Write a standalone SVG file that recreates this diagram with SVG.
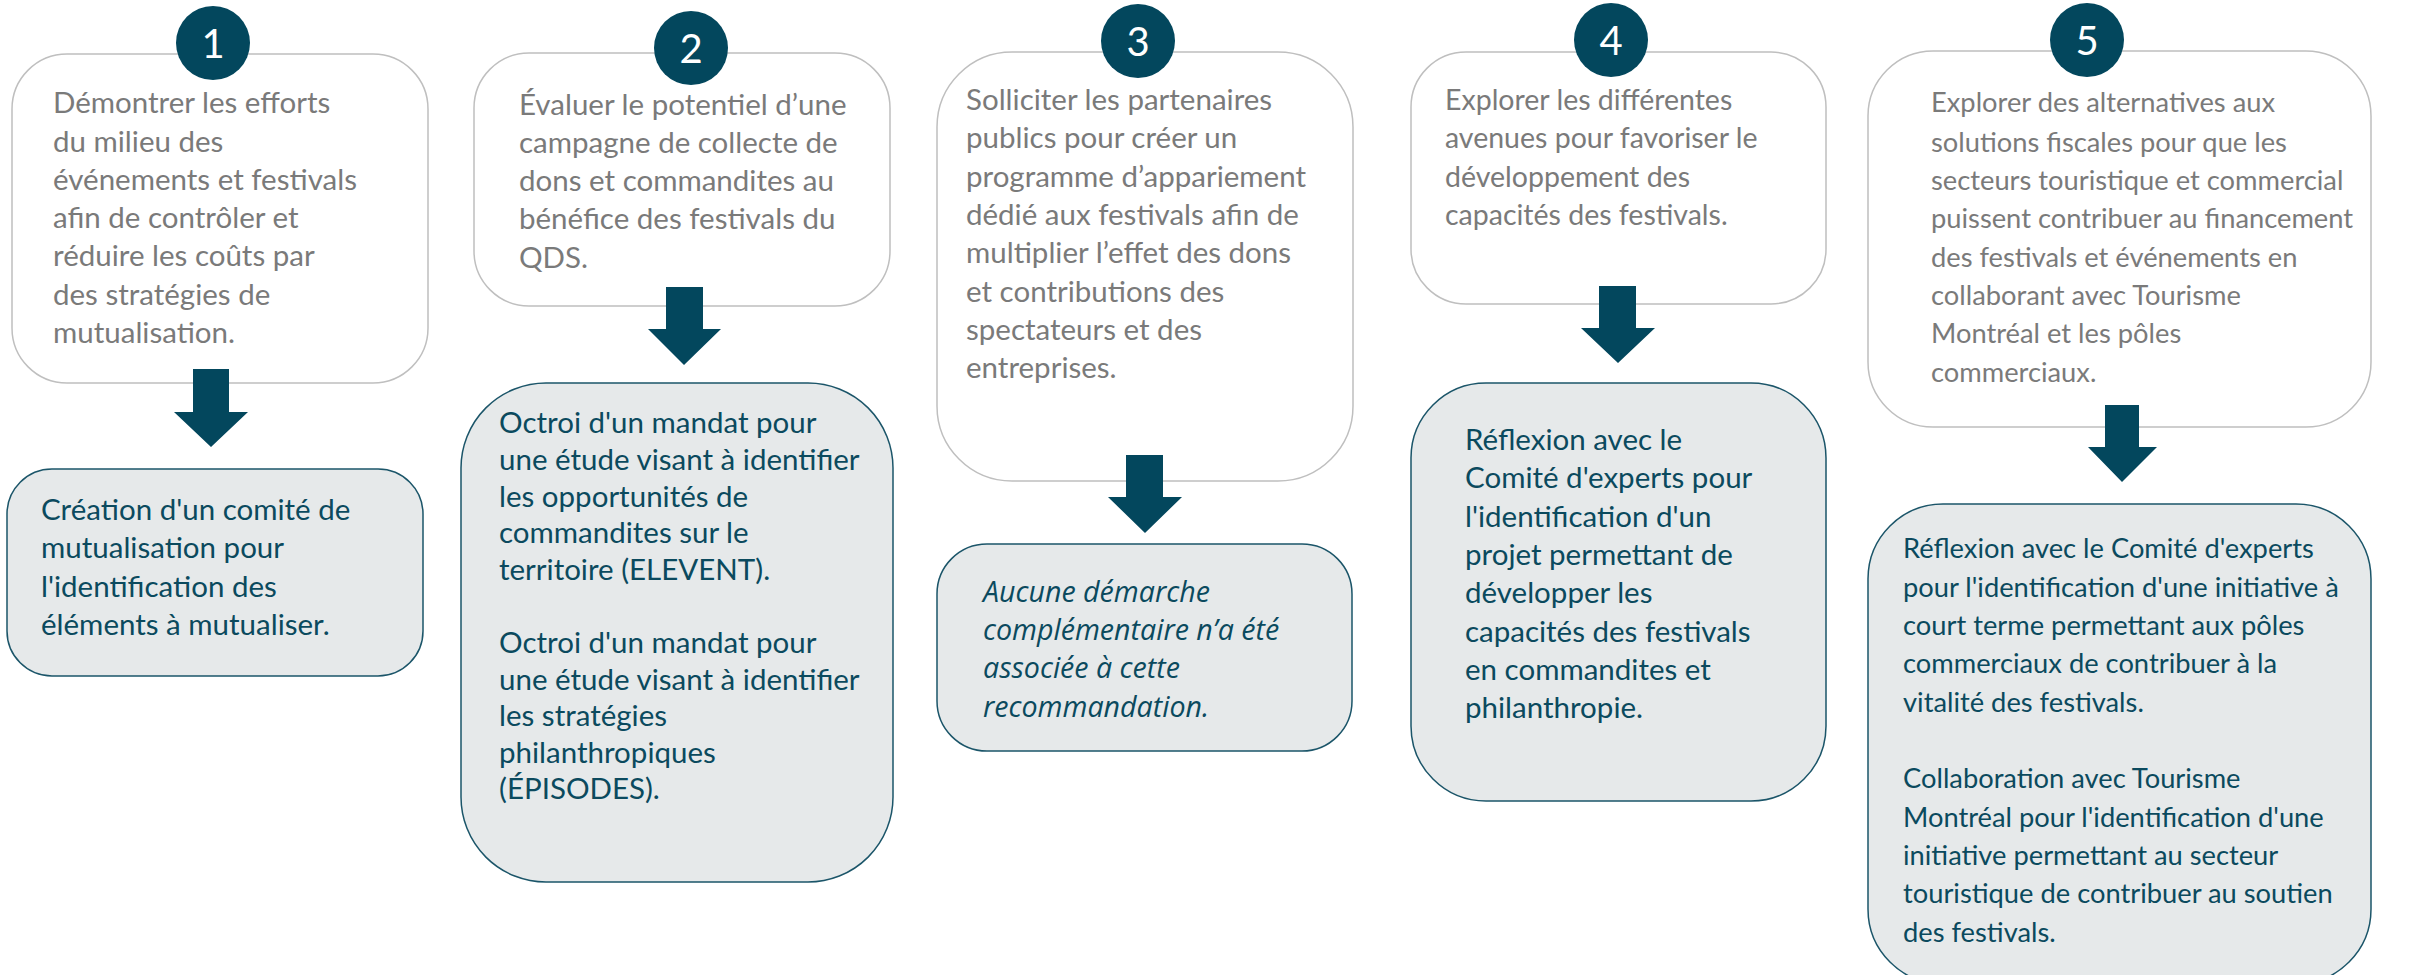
<svg xmlns="http://www.w3.org/2000/svg" width="2412" height="975" viewBox="0 0 2412 975">
<style>
.top{fill:#ffffff;stroke:#bfbfbf;stroke-width:1.5}
.bot{fill:#e6e9ea;stroke:#1b5569;stroke-width:1.5}
.circ{fill:#03475d}
.num{font-family:Lato,"Liberation Sans",sans-serif;font-size:40px;fill:#ffffff;text-anchor:middle}
.tt{font-family:Lato,"Liberation Sans",sans-serif;font-size:29.5px;fill:#7a7a7a}
.bt{font-family:Lato,"Liberation Sans",sans-serif;font-size:29.5px;fill:#0b4a5e}
.it{font-family:"Open Sans",Lato,sans-serif;font-style:italic;font-size:28.6px}
.s4{font-size:28.5px}
.s5{font-size:27.3px}
.arr{fill:#03475d}
</style>
<rect width="2412" height="975" fill="#ffffff"/>

<g id="node1">
<rect class="top" x="12" y="54" width="416" height="329" rx="55"/>
<circle class="circ" cx="213" cy="43" r="37"/>
<text class="num" x="213" y="58">1</text>
<text class="tt"><tspan x="53" y="113">Démontrer les efforts</tspan><tspan x="53" y="152">du milieu des</tspan><tspan x="53" y="190">événements et festivals</tspan><tspan x="53" y="228">afin de contrôler et</tspan><tspan x="53" y="266">réduire les coûts par</tspan><tspan x="53" y="305">des stratégies de</tspan><tspan x="53" y="343">mutualisation.</tspan></text>
</g>
<g id="result1">
<rect class="bot" x="7" y="469" width="416" height="207" rx="45"/>
<text class="bt"><tspan x="41" y="520">Création d'un comité de</tspan><tspan x="41" y="558">mutualisation pour</tspan><tspan x="41" y="597">l'identification des</tspan><tspan x="41" y="635">éléments à mutualiser.</tspan></text>
</g>

<g id="node2">
<rect class="top" x="474" y="53" width="416" height="253" rx="55"/>
<circle class="circ" cx="691" cy="48" r="37"/>
<text class="num" x="691" y="63">2</text>
<text class="tt"><tspan x="519" y="115">Évaluer le potentiel d’une</tspan><tspan x="519" y="153">campagne de collecte de</tspan><tspan x="519" y="191">dons et commandites au</tspan><tspan x="519" y="229">bénéfice des festivals du</tspan><tspan x="519" y="268">QDS.</tspan></text>
</g>
<g id="result2">
<rect class="bot" x="461" y="383" width="432" height="499" rx="85"/>
<text class="bt"><tspan x="499" y="433">Octroi d'un mandat pour</tspan><tspan x="499" y="470">une étude visant à identifier</tspan><tspan x="499" y="507">les opportunités de</tspan><tspan x="499" y="543">commandites sur le</tspan><tspan x="499" y="580">territoire (ELEVENT).</tspan><tspan x="499" y="653">Octroi d'un mandat pour</tspan><tspan x="499" y="690">une étude visant à identifier</tspan><tspan x="499" y="726">les stratégies</tspan><tspan x="499" y="763">philanthropiques</tspan><tspan x="499" y="799">(ÉPISODES).</tspan></text>
</g>

<g id="node3">
<rect class="top" x="937" y="52" width="416" height="429" rx="75"/>
<circle class="circ" cx="1138" cy="41" r="37"/>
<text class="num" x="1138" y="56">3</text>
<text class="tt"><tspan x="966" y="110">Solliciter les partenaires</tspan><tspan x="966" y="148">publics pour créer un</tspan><tspan x="966" y="187">programme d’appariement</tspan><tspan x="966" y="225">dédié aux festivals afin de</tspan><tspan x="966" y="263">multiplier l’effet des dons</tspan><tspan x="966" y="302">et contributions des</tspan><tspan x="966" y="340">spectateurs et des</tspan><tspan x="966" y="378">entreprises.</tspan></text>
</g>
<g id="result3">
<rect class="bot" x="937" y="544" width="415" height="207" rx="50"/>
<text class="bt it"><tspan x="983" y="602">Aucune démarche</tspan><tspan x="983" y="640">complémentaire n’a été</tspan><tspan x="983" y="678">associée à cette</tspan><tspan x="983" y="717">recommandation.</tspan></text>
</g>

<g id="node4">
<rect class="top" x="1411" y="52" width="415" height="252" rx="55"/>
<circle class="circ" cx="1611" cy="40" r="37"/>
<text class="num" x="1611" y="55">4</text>
<text class="tt s4"><tspan x="1445" y="110">Explorer les différentes</tspan><tspan x="1445" y="148">avenues pour favoriser le</tspan><tspan x="1445" y="187">développement des</tspan><tspan x="1445" y="225">capacités des festivals.</tspan></text>
</g>
<g id="result4">
<rect class="bot" x="1411" y="383" width="415" height="418" rx="75"/>
<text class="bt"><tspan x="1465" y="450">Réflexion avec le</tspan><tspan x="1465" y="488">Comité d'experts pour</tspan><tspan x="1465" y="527">l'identification d'un</tspan><tspan x="1465" y="565">projet permettant de</tspan><tspan x="1465" y="603">développer les</tspan><tspan x="1465" y="642">capacités des festivals</tspan><tspan x="1465" y="680">en commandites et</tspan><tspan x="1465" y="718">philanthropie.</tspan></text>
</g>

<g id="node5">
<rect class="top" x="1868" y="51" width="503" height="376" rx="65"/>
<circle class="circ" cx="2087" cy="40" r="37"/>
<text class="num" x="2087" y="55">5</text>
<text class="tt s5"><tspan x="1931" y="112">Explorer des alternatives aux</tspan><tspan x="1931" y="152">solutions fiscales pour que les</tspan><tspan x="1931" y="190">secteurs touristique et commercial</tspan><tspan x="1931" y="228">puissent contribuer au financement</tspan><tspan x="1931" y="267">des festivals et événements en</tspan><tspan x="1931" y="305">collaborant avec Tourisme</tspan><tspan x="1931" y="343">Montréal et les pôles</tspan><tspan x="1931" y="382">commerciaux.</tspan></text>
</g>
<g id="result5">
<rect class="bot" x="1868" y="504" width="503" height="480" rx="75"/>
<text class="bt s5"><tspan x="1903" y="558">Réflexion avec le Comité d'experts</tspan><tspan x="1903" y="597">pour l'identification d'une initiative à</tspan><tspan x="1903" y="635">court terme permettant aux pôles</tspan><tspan x="1903" y="673">commerciaux de contribuer à la</tspan><tspan x="1903" y="712">vitalité des festivals.</tspan><tspan x="1903" y="788">Collaboration avec Tourisme</tspan><tspan x="1903" y="827">Montréal pour l'identification d'une</tspan><tspan x="1903" y="865">initiative permettant au secteur</tspan><tspan x="1903" y="903">touristique de contribuer au soutien</tspan><tspan x="1903" y="942">des festivals.</tspan></text>
</g>

<g id="connectors">
<polygon class="arr" points="193,369 229,369 229,412 248,412 211,447 174,412 193,412"/>
<polygon class="arr" points="666,287 703,287 703,329 721,329 684,365 648,329 666,329"/>
<polygon class="arr" points="1126,455 1163,455 1163,497 1182,497 1145,533 1108,497 1126,497"/>
<polygon class="arr" points="1599,286 1636,286 1636,328 1655,328 1618,363 1581,328 1599,328"/>
<polygon class="arr" points="2105,405 2139,405 2139,447 2157,447 2122,482 2088,447 2105,447"/>
</g>
</svg>
